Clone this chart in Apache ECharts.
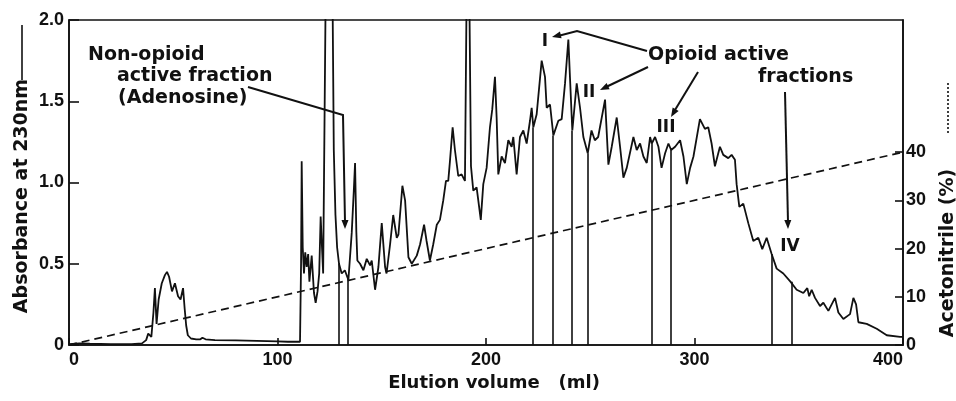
<!DOCTYPE html>
<html><head><meta charset="utf-8">
<script src="https://cdn.jsdelivr.net/npm/echarts@6/dist/echarts.min.js"></script>
<style>html,body{margin:0;padding:0;background:#fff}#c{width:956px;height:401px}</style>
</head><body><div id="c"></div>
<script>
// Elution volume (ml) and absorbance at 230 nm
const elutionVolume = [0,5,10,20,30,35,37,38,39.5,40.5,41.2,42,43,44.5,46,47,48,49.4,50.8,52.3,53.5,54.7,55.5,56.2,57,58.5,61,63,64,65.5,70,80,90,100,105,110.8,
111.3,111.6,112.1,112.7,113.3,114,114.7,115.3,116.4,117.5,118.3,119.2,120,120.7,121.2,121.9,122.6,123.2,126.3,127,127.8,128.6,129.5,130.8,132.3,134,135.6,136.6,137.2,137.8,138.3,139.6,
141.2,142.8,144.4,145.2,146.8,148.4,150,151.6,152.3,154,155.5,157.2,158,159.9,161.2,162.8,164.4,166.8,168.4,170.3,171.5,173.1,174.7,176.4,177.9,179.5,180.8,181.9,182.7,184,185.1,186.7,188.3,189.9,
190.8,191.9,192.8,193.9,195.5,197.5,198.7,200.3,201.9,203,204.3,205.1,205.9,207.5,209.1,210.7,212.3,213.1,214.7,216.3,217.9,219.5,221.1,221.9,222.7,224.3,226.7,228.3,229.1,230.7,232.3,234.7,236.3,237.9,239.5,240.3,241.4,243.5,245.1,246.7,248.8,
250.6,252.2,253.8,257.1,258.7,260.3,262.7,264.3,265.9,267.5,270.7,272.3,273.9,275.5,277.1,278.7,279.5,281.1,282.7,284.2,285.9,287.5,288.8,290.7,293.1,294.7,296.3,297.9,299.5,
302.6,305,306.6,308.2,309.8,312.2,313.8,316.2,317.8,319.4,320.2,321.5,323.4,325.8,328.2,330.6,332.5,334.6,337,339.4,342.6,346,349,352.2,354.1,355,356.2,357.8,360.2,361.8,364.2,367.4,369,371.4,374.6,376.2,377.5,378.6,382.6,387.4,392.2,398.6,400];
const absorbance = [0.005,0.01,0.008,0.006,0.006,0.01,0.03,0.07,0.05,0.2,0.35,0.13,0.28,0.38,0.43,0.45,0.42,0.33,0.38,0.3,0.28,0.35,0.22,0.12,0.06,0.04,0.035,0.035,0.045,0.035,0.03,0.028,0.025,0.022,0.02,0.02,
0.5,1.13,0.6,0.44,0.57,0.48,0.56,0.39,0.55,0.32,0.26,0.33,0.44,0.79,0.64,0.44,0.45,2.3,2.3,1.2,0.8,0.6,0.5,0.44,0.46,0.4,0.69,0.95,1.12,0.7,0.52,0.5,
0.46,0.53,0.49,0.52,0.34,0.48,0.75,0.48,0.44,0.62,0.8,0.66,0.68,0.98,0.89,0.54,0.5,0.55,0.62,0.74,0.64,0.52,0.62,0.74,0.77,0.89,1.01,1.01,1.13,1.34,1.2,1.04,1.05,1.01,
2.3,2.3,1.1,0.95,0.97,0.77,0.99,1.09,1.34,1.45,1.65,1.4,1.05,1.16,1.12,1.26,1.22,1.28,1.05,1.28,1.32,1.24,1.38,1.46,1.34,1.42,1.75,1.65,1.46,1.48,1.29,1.38,1.39,1.61,1.88,1.64,1.32,1.61,1.46,1.28,1.18,
1.32,1.26,1.28,1.51,1.11,1.22,1.4,1.22,1.03,1.09,1.28,1.2,1.24,1.16,1.12,1.28,1.24,1.28,1.22,1.09,1.18,1.24,1.2,1.22,1.26,1.16,0.99,1.09,1.16,
1.39,1.33,1.34,1.24,1.1,1.22,1.17,1.15,1.17,1.14,0.99,0.85,0.87,0.75,0.64,0.66,0.59,0.66,0.56,0.47,0.44,0.39,0.34,0.32,0.35,0.3,0.34,0.29,0.24,0.26,0.21,0.29,0.2,0.16,0.19,0.29,0.25,0.14,0.13,0.1,0.06,0.05,0.05];
// Acetonitrile gradient (%)
const gradientVolume = [0, 400];
const acetonitrile = [0, 40];
// Collected fraction boundaries (ml) and the absorbance where each boundary line meets the trace
const fractionBounds = [129.5,133.8,222.6,232.2,241.3,248.7,279.5,288.7,337,346.6];
const fractionTops   = [0.5,0.41,1.34,1.29,1.32,1.18,1.24,1.2,0.56,0.39];
// Tick labels
const volumeTicks = [0,100,200,300,400];
const absorbanceTicks = [0,0.5,1.0,1.5,2.0];
const acetonitrileTicks = [0,10,20,30,40];

const INK = '#111';
const chart = echarts.init(document.getElementById('c'), null, {renderer:'canvas'});
const tickFont = {color:INK, fontFamily:'Liberation Sans', fontWeight:'bold', fontSize:18};
const annFont = {fill:INK, fontFamily:'DejaVu Sans', fontWeight:'bold', fontSize:19};

function txt(str, x, y, extra) {
  return Object.assign({type:'text', x:x, y:y, silent:true,
    style:Object.assign({text:str, textVerticalAlign:'middle'}, annFont, extra||{})});
}
function arrow(from, tip) {
  const dx = tip[0]-from[0], dy = tip[1]-from[1];
  const L = Math.hypot(dx,dy), ux = dx/L, uy = dy/L;
  const len = 9, hw = 3.5;
  const bx = tip[0]-ux*len, by = tip[1]-uy*len;
  return {type:'polygon', silent:true, shape:{points:[tip,[bx-uy*hw,by+ux*hw],[bx+uy*hw,by-ux*hw]]}, style:{fill:INK}};
}
function pline(points) {
  return {type:'polyline', silent:true, shape:{points:points}, style:{stroke:INK, lineWidth:2, fill:null}};
}

const option = {
  animation:false,
  backgroundColor:'#fff',
  grid:{left:69, right:53, top:20, bottom:56, show:true, borderColor:INK, borderWidth:1.6},
  xAxis:{type:'value', min:0, max:400, interval:100,
    axisLine:{lineStyle:{color:INK, width:1.6}},
    axisTick:{inside:true, length:7, lineStyle:{color:INK, width:1.6}},
    axisLabel:Object.assign({margin:6, alignMinLabel:'left', alignMaxLabel:'right',
      customValues:volumeTicks, formatter:v=>String(v)}, tickFont),
    splitLine:{show:false}},
  yAxis:[
    {type:'value', min:0, max:2, interval:0.5, position:'left',
      axisLine:{show:true, lineStyle:{color:INK, width:1.6}},
      axisTick:{show:true, inside:true, length:10, lineStyle:{color:INK, width:1.6}},
      axisLabel:Object.assign({margin:5, customValues:absorbanceTicks, formatter:v=> v===0 ? '0' : v.toFixed(1)}, tickFont),
      splitLine:{show:false}},
    {type:'value', min:0, max:67.4, position:'right',
      axisLine:{show:true, lineStyle:{color:INK, width:1.6}},
      axisTick:{show:true, inside:true, length:8, customValues:acetonitrileTicks, lineStyle:{color:INK, width:1.6}},
      axisLabel:Object.assign({margin:3, customValues:acetonitrileTicks, formatter:v=>String(v)}, tickFont),
      splitLine:{show:false}}
  ],
  series:[
    {type:'line', name:'Absorbance', yAxisIndex:0, showSymbol:false, clip:true,
      data:elutionVolume.map((v,i)=>[v, absorbance[i]]),
      lineStyle:{color:INK, width:1.8}, itemStyle:{color:INK},
      markLine:{silent:true, symbol:['none','none'], label:{show:false},
        lineStyle:{color:INK, width:1.6, type:'solid'},
        emphasis:{disabled:true},
        data:fractionBounds.map((v,i)=>[{coord:[v,0]},{coord:[v,fractionTops[i]]}])}},
    {type:'line', name:'Acetonitrile', yAxisIndex:1, showSymbol:false,
      data:gradientVolume.map((v,i)=>[v, acetonitrile[i]]),
      lineStyle:{color:INK, width:1.7, type:[8,5]}}
  ],
  graphic:[
    // axis titles
    txt('Absorbance at 230nm', 22, 196, {textAlign:'center', fontSize:19}),
    {type:'line', silent:true, shape:{x1:22,y1:25,x2:22,y2:80}, style:{stroke:INK, lineWidth:1.6}},
    txt('Acetonitrile (%)', 948, 253, {textAlign:'center', fontSize:19}),
    {type:'line', silent:true, shape:{x1:948,y1:83,x2:948,y2:133}, style:{stroke:INK, lineWidth:1.6, lineDash:[2,2]}},
    txt('Elution volume   (ml)', 494, 383, {textAlign:'center', fontSize:18}),
    // annotations
    txt('Non-opioid', 88, 55),
    txt('active fraction', 117, 76),
    txt('(Adenosine)', 118, 98),
    txt('Opioid active', 648, 55),
    txt('fractions', 758, 77),
    txt('I', 545, 42, {textAlign:'center', fontSize:17}),
    txt('II', 589, 93, {textAlign:'center', fontSize:17}),
    txt('III', 666, 128, {textAlign:'center', fontSize:17}),
    txt('IV', 790, 247, {textAlign:'center', fontSize:17}),
    pline([[248,87],[343,115],[345,222]]), arrow([345,115],[345,229]),
    pline([[647,51],[577,31],[558,36]]), arrow([577,31],[552,37]),
    pline([[648,67],[606,87]]), arrow([648,67],[600,90]),
    pline([[698,72],[675,110]]), arrow([698,72],[671,117]),
    pline([[785,92],[788,222]]), arrow([785,92],[788,229])
  ]
};
// rotate axis-title texts to read bottom-to-top
option.graphic[0].rotation = Math.PI/2;
option.graphic[2].rotation = Math.PI/2;
chart.setOption(option);
</script>
</body></html>
